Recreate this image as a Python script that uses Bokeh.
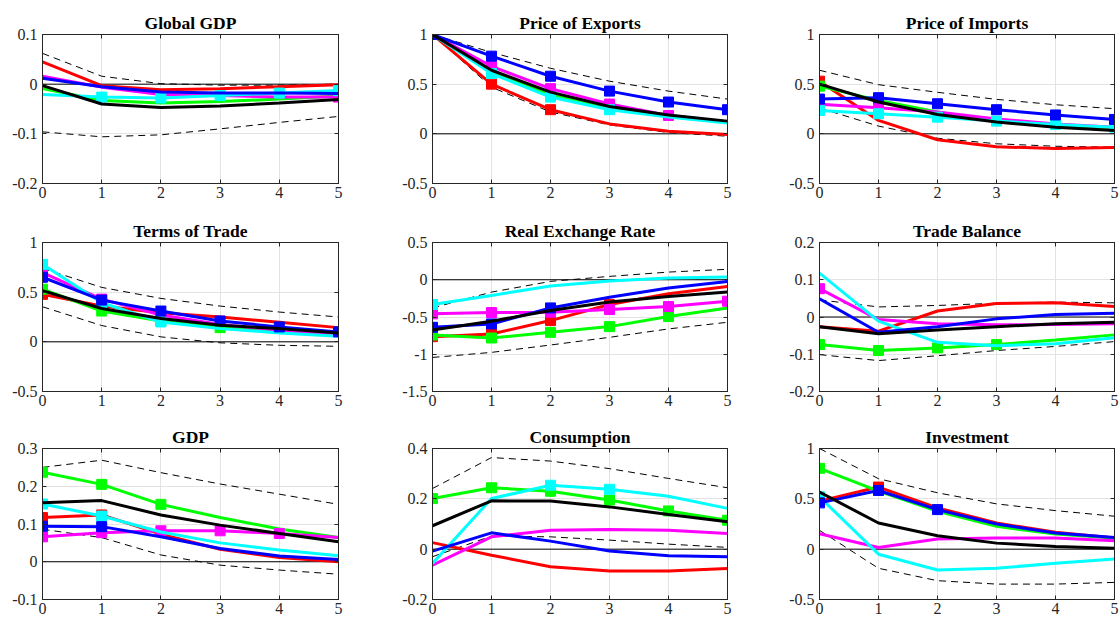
from bokeh.plotting import figure
from bokeh.layouts import gridplot
from bokeh.models import FixedTicker, Span, Range1d, LinearAxis
from bokeh.embed import file_html
from bokeh.resources import INLINE

STEPS = [0, 1, 2, 3, 4, 5]
X_TICKS = [0, 1, 2, 3, 4, 5]
X_TICK_LABELS = ["0", "1", "2", "3", "4", "5"]

TITLES = ["Global GDP", "Price of Exports", "Price of Imports",
          "Terms of Trade", "Real Exchange Rate", "Trade Balance",
          "GDP", "Consumption", "Investment"]

Y_TICKS = [[-0.2, -0.1, 0, 0.1], [-0.5, 0, 0.5, 1], [-0.5, 0, 0.5, 1],
           [-0.5, 0, 0.5, 1], [-1.5, -1, -0.5, 0, 0.5], [-0.2, -0.1, 0, 0.1, 0.2],
           [-0.1, 0, 0.1, 0.2, 0.3], [-0.2, 0, 0.2, 0.4], [-0.5, 0, 0.5, 1]]
Y_TICK_LABELS = [["-0.2", "-0.1", "0", "0.1"], ["-0.5", "0", "0.5", "1"],
                 ["-0.5", "0", "0.5", "1"], ["-0.5", "0", "0.5", "1"],
                 ["-1.5", "-1", "-0.5", "0", "0.5"], ["-0.2", "-0.1", "0", "0.1", "0.2"],
                 ["-0.1", "0", "0.1", "0.2", "0.3"], ["-0.2", "0", "0.2", "0.4"],
                 ["-0.5", "0", "0.5", "1"]]

# ---- Panel 1: Global GDP
P1_UPPER = [0.062, 0.016, 0.001, -0.002, -0.002, 0.0]
P1_LOWER = [-0.096, -0.106, -0.102, -0.090, -0.077, -0.065]
P1_BLACK = [-0.003, -0.040, -0.047, -0.044, -0.038, -0.031]
P1_RED = [0.045, -0.003, -0.011, -0.009, -0.005, -0.001]
P1_GREEN = [-0.009, -0.033, -0.038, -0.035, -0.030, -0.024]
P1_BLUE = [0.012, -0.005, -0.016, -0.018, -0.018, -0.019]
P1_MAGENTA = [0.016, -0.006, -0.021, -0.023, -0.026, -0.026]
P1_CYAN = [-0.021, -0.026, -0.028, -0.023, -0.018, -0.013]
P1_RED_MK = [0, 0, 0, 0, 0, 0]
P1_GREEN_MK = [0, 0, 0, 0, 0, 0]
P1_BLUE_MK = [0, 0, 0, 0, 0, 0]
P1_MAGENTA_MK = [0, 0, 0, 0, 0, 1]
P1_CYAN_MK = [0, 1, 1, 1, 1, 1]

# ---- Panel 2: Price of Exports
P2_UPPER = [1.0, 0.82, 0.66, 0.53, 0.43, 0.35]
P2_LOWER = [1.0, 0.47, 0.22, 0.09, 0.013, -0.024]
P2_BLACK = [1.0, 0.64, 0.42, 0.276, 0.19, 0.128]
P2_RED = [1.0, 0.50, 0.243, 0.10, 0.027, -0.007]
P2_GREEN = [1.0, 0.62, 0.39, 0.26, 0.175, 0.115]
P2_BLUE = [1.0, 0.782, 0.58, 0.43, 0.32, 0.243]
P2_MAGENTA = [1.0, 0.68, 0.455, 0.30, 0.185, 0.118]
P2_CYAN = [1.0, 0.607, 0.37, 0.243, 0.17, 0.108]
P2_RED_MK = [1, 1, 1, 0, 0, 0]
P2_GREEN_MK = [0, 0, 0, 0, 0, 0]
P2_BLUE_MK = [1, 1, 1, 1, 1, 1]
P2_MAGENTA_MK = [1, 1, 1, 1, 1, 0]
P2_CYAN_MK = [1, 1, 1, 1, 0, 0]

# ---- Panel 3: Price of Imports
P3_UPPER = [0.64, 0.495, 0.418, 0.347, 0.293, 0.253]
P3_LOWER = [0.26, 0.078, -0.044, -0.10, -0.125, -0.135]
P3_BLACK = [0.50, 0.32, 0.195, 0.118, 0.067, 0.034]
P3_RED = [0.53, 0.135, -0.06, -0.13, -0.148, -0.138]
P3_GREEN = [0.48, 0.337, 0.22, 0.125, 0.074, 0.04]
P3_BLUE = [0.35, 0.364, 0.303, 0.243, 0.19, 0.145]
P3_MAGENTA = [0.297, 0.263, 0.22, 0.15, 0.10, 0.067]
P3_CYAN = [0.236, 0.202, 0.168, 0.128, 0.094, 0.067]
P3_RED_MK = [1, 0, 0, 0, 0, 0]
P3_GREEN_MK = [1, 0, 0, 0, 0, 0]
P3_BLUE_MK = [1, 1, 1, 1, 1, 1]
P3_MAGENTA_MK = [0, 1, 0, 0, 0, 0]
P3_CYAN_MK = [1, 1, 1, 1, 1, 1]

# ---- Panel 4: Terms of Trade
P4_UPPER = [0.74, 0.548, 0.437, 0.36, 0.30, 0.25]
P4_LOWER = [0.353, 0.164, 0.05, -0.01, -0.035, -0.045]
P4_BLACK = [0.515, 0.336, 0.235, 0.167, 0.133, 0.09]
P4_RED = [0.478, 0.36, 0.292, 0.25, 0.198, 0.143]
P4_GREEN = [0.53, 0.31, 0.21, 0.143, 0.107, 0.066]
P4_BLUE = [0.65, 0.42, 0.31, 0.21, 0.15, 0.10]
P4_MAGENTA = [0.696, 0.43, 0.27, 0.174, 0.116, 0.076]
P4_CYAN = [0.78, 0.393, 0.20, 0.133, 0.09, 0.056]
P4_RED_MK = [1, 0, 0, 0, 0, 0]
P4_GREEN_MK = [1, 1, 1, 1, 0, 0]
P4_BLUE_MK = [1, 1, 1, 1, 1, 1]
P4_MAGENTA_MK = [1, 1, 0, 0, 0, 0]
P4_CYAN_MK = [1, 1, 1, 0, 0, 0]

# ---- Panel 5: Real Exchange Rate
P5_UPPER = [-0.378, -0.166, -0.022, 0.045, 0.103, 0.14]
P5_LOWER = [-1.043, -0.975, -0.876, -0.773, -0.66, -0.571]
P5_BLACK = [-0.674, -0.557, -0.413, -0.30, -0.225, -0.166]
P5_RED = [-0.764, -0.728, -0.548, -0.333, -0.189, -0.09]
P5_GREEN = [-0.742, -0.782, -0.706, -0.629, -0.494, -0.378]
P5_BLUE = [-0.638, -0.593, -0.378, -0.234, -0.112, -0.022]
P5_MAGENTA = [-0.458, -0.44, -0.436, -0.40, -0.36, -0.288]
P5_CYAN = [-0.333, -0.21, -0.085, -0.018, 0.022, 0.036]
P5_RED_MK = [1, 1, 1, 1, 0, 0]
P5_GREEN_MK = [1, 1, 1, 1, 1, 0]
P5_BLUE_MK = [1, 1, 1, 0, 0, 0]
P5_MAGENTA_MK = [1, 1, 1, 1, 1, 1]
P5_CYAN_MK = [1, 0, 0, 0, 0, 0]

# ---- Panel 6: Trade Balance
P6_UPPER = [0.046, 0.027, 0.031, 0.037, 0.04, 0.038]
P6_LOWER = [-0.101, -0.117, -0.104, -0.09, -0.079, -0.066]
P6_BLACK = [-0.026, -0.045, -0.035, -0.026, -0.018, -0.014]
P6_RED = [-0.026, -0.038, 0.016, 0.036, 0.038, 0.028]
P6_GREEN = [-0.074, -0.09, -0.083, -0.074, -0.062, -0.048]
P6_BLUE = [0.049, -0.041, -0.026, -0.005, 0.007, 0.010]
P6_MAGENTA = [0.076, -0.007, -0.018, -0.021, -0.020, -0.018]
P6_CYAN = [0.118, -0.011, -0.068, -0.077, -0.072, -0.056]
P6_RED_MK = [0, 0, 0, 0, 0, 0]
P6_GREEN_MK = [1, 1, 1, 1, 0, 0]
P6_BLUE_MK = [0, 0, 0, 0, 0, 0]
P6_MAGENTA_MK = [1, 0, 0, 0, 0, 0]
P6_CYAN_MK = [0, 0, 0, 0, 0, 0]

# ---- Panel 7: GDP
P7_UPPER = [0.25, 0.269, 0.236, 0.206, 0.179, 0.152]
P7_LOWER = [0.086, 0.064, 0.018, -0.009, -0.022, -0.033]
P7_BLACK = [0.156, 0.162, 0.124, 0.097, 0.075, 0.053]
P7_RED = [0.117, 0.124, 0.073, 0.033, 0.011, 0.0]
P7_GREEN = [0.237, 0.205, 0.152, 0.117, 0.087, 0.064]
P7_BLUE = [0.094, 0.093, 0.066, 0.035, 0.015, 0.006]
P7_MAGENTA = [0.066, 0.077, 0.082, 0.082, 0.075, 0.064]
P7_CYAN = [0.153, 0.121, 0.079, 0.05, 0.031, 0.016]
P7_RED_MK = [1, 1, 0, 0, 0, 0]
P7_GREEN_MK = [1, 1, 1, 0, 0, 0]
P7_BLUE_MK = [1, 1, 0, 0, 0, 0]
P7_MAGENTA_MK = [1, 1, 1, 1, 1, 0]
P7_CYAN_MK = [1, 1, 0, 0, 0, 0]

# ---- Panel 8: Consumption
P8_UPPER = [0.241, 0.364, 0.35, 0.32, 0.281, 0.244]
P8_LOWER = [-0.03, 0.052, 0.049, 0.036, 0.02, 0.007]
P8_BLACK = [0.093, 0.192, 0.191, 0.168, 0.138, 0.109]
P8_RED = [0.026, -0.024, -0.07, -0.087, -0.087, -0.077]
P8_GREEN = [0.201, 0.244, 0.23, 0.195, 0.152, 0.115]
P8_BLUE = [-0.008, 0.065, 0.032, -0.007, -0.026, -0.03]
P8_MAGENTA = [-0.064, 0.049, 0.075, 0.078, 0.075, 0.062]
P8_CYAN = [-0.057, 0.201, 0.254, 0.238, 0.21, 0.162]
P8_RED_MK = [0, 0, 0, 0, 0, 0]
P8_GREEN_MK = [1, 1, 1, 1, 1, 1]
P8_BLUE_MK = [0, 0, 0, 0, 0, 0]
P8_MAGENTA_MK = [0, 0, 0, 0, 0, 0]
P8_CYAN_MK = [0, 0, 1, 1, 0, 0]

# ---- Panel 9: Investment
P9_UPPER = [1.0, 0.70, 0.56, 0.45, 0.383, 0.327]
P9_LOWER = [0.187, -0.19, -0.313, -0.347, -0.347, -0.33]
P9_BLACK = [0.567, 0.26, 0.133, 0.06, 0.027, 0.01]
P9_RED = [0.477, 0.617, 0.41, 0.26, 0.167, 0.11]
P9_GREEN = [0.803, 0.577, 0.377, 0.227, 0.15, 0.11]
P9_BLUE = [0.46, 0.583, 0.393, 0.25, 0.16, 0.117]
P9_MAGENTA = [0.153, 0.017, 0.10, 0.11, 0.11, 0.083]
P9_CYAN = [0.52, -0.05, -0.207, -0.19, -0.14, -0.097]
P9_RED_MK = [0, 1, 0, 0, 0, 0]
P9_GREEN_MK = [1, 0, 0, 0, 0, 0]
P9_BLUE_MK = [1, 1, 1, 0, 0, 0]
P9_MAGENTA_MK = [0, 0, 0, 0, 0, 0]
P9_CYAN_MK = [1, 0, 0, 0, 0, 0]

g = globals()
SERIES_COLORS = [("RED", "#ff0000"), ("GREEN", "#00ff00"), ("MAGENTA", "#ff00ff"),
                 ("CYAN", "#00ffff"), ("BLUE", "#0000ff")]

FONT = "Liberation Serif"
TXT = "#262626"

COL_LEFT = [42, 52, 59]
COL_FRAME = [296, 295, 295]
COL_RIGHT = [42, 33, 6]
ROW_TOP = [34, 37, 33]
ROW_FRAME = [149, 149, 151]
ROW_BOTTOM = [22, 24, 22]

figs = []
for i in range(9):
    r, c = divmod(i, 3)
    k = "P%d_" % (i + 1)
    lo, hi = Y_TICKS[i][0], Y_TICKS[i][-1]
    p = figure(frame_width=COL_FRAME[c], frame_height=ROW_FRAME[r],
               min_border_left=COL_LEFT[c], min_border_right=COL_RIGHT[c],
               min_border_top=ROW_TOP[r], min_border_bottom=ROW_BOTTOM[r],
               x_range=Range1d(0, 5), y_range=Range1d(lo, hi),
               output_backend="svg", toolbar_location=None,
               title=TITLES[i])
    p.title.align = "center"
    p.title.text_font = FONT
    p.title.text_font_style = "bold"
    p.title.text_font_size = "17.5px"
    p.title.text_color = "#000000"
    p.title.standoff = 4
    p.outline_line_color = TXT
    p.outline_line_width = 1
    p.background_fill_color = "white"
    p.border_fill_color = "white"

    bottom_ax = p.below[0]
    left_ax = p.left[0]
    top_ax = LinearAxis()
    right_ax = LinearAxis()
    p.add_layout(right_ax, "right")
    p.add_layout(top_ax, "above")

    for ax in (bottom_ax, top_ax):
        ax.ticker = FixedTicker(ticks=X_TICKS)
    for ax in (left_ax, right_ax):
        ax.ticker = FixedTicker(ticks=Y_TICKS[i])
    bottom_ax.major_label_overrides = {t: l for t, l in zip(X_TICKS, X_TICK_LABELS)}
    left_ax.major_label_overrides = {t: l for t, l in zip(Y_TICKS[i], Y_TICK_LABELS[i])}
    for ax in (bottom_ax, left_ax, top_ax, right_ax):
        ax.major_tick_in = 4
        ax.major_tick_out = 0
        ax.minor_tick_line_color = None
        ax.axis_line_color = TXT
        ax.major_tick_line_color = TXT
        ax.major_label_text_font = FONT
        ax.major_label_text_font_size = "16px"
        ax.major_label_text_color = TXT
        ax.major_label_standoff = 5
    bottom_ax.major_label_standoff = 3
    for ax in (top_ax, right_ax):
        ax.major_label_text_font_size = "0px"
        ax.major_label_standoff = 0
        ax.major_label_text_alpha = 0
    p.xgrid.ticker = FixedTicker(ticks=X_TICKS)
    p.ygrid.ticker = FixedTicker(ticks=Y_TICKS[i])
    p.xgrid.grid_line_color = "#e3e3e3"
    p.ygrid.grid_line_color = "#e3e3e3"

    p.add_layout(Span(location=0, dimension="width", line_color="#000000",
                      line_width=1, level="underlay"))

    p.line(STEPS, g[k + "UPPER"], line_color="black", line_width=1, line_dash="7 5")
    p.line(STEPS, g[k + "LOWER"], line_color="black", line_width=1, line_dash="7 5")

    for name, col in SERIES_COLORS:
        vals = g[k + name]
        mk = g[k + name + "_MK"]
        p.line(STEPS, vals, line_color=col, line_width=3)
        mx = [s for s, m in zip(STEPS, mk) if m]
        my = [v for v, m in zip(vals, mk) if m]
        if mx:
            p.scatter(mx, my, marker="square", size=10, fill_color=col,
                      line_color=col, line_width=1)
    p.line(STEPS, g[k + "BLACK"], line_color="black", line_width=3)
    figs.append(p)

grid = gridplot([figs[0:3], figs[3:6], figs[6:9]], toolbar_location=None)

open("out.html", "w").write(file_html(grid, INLINE))
